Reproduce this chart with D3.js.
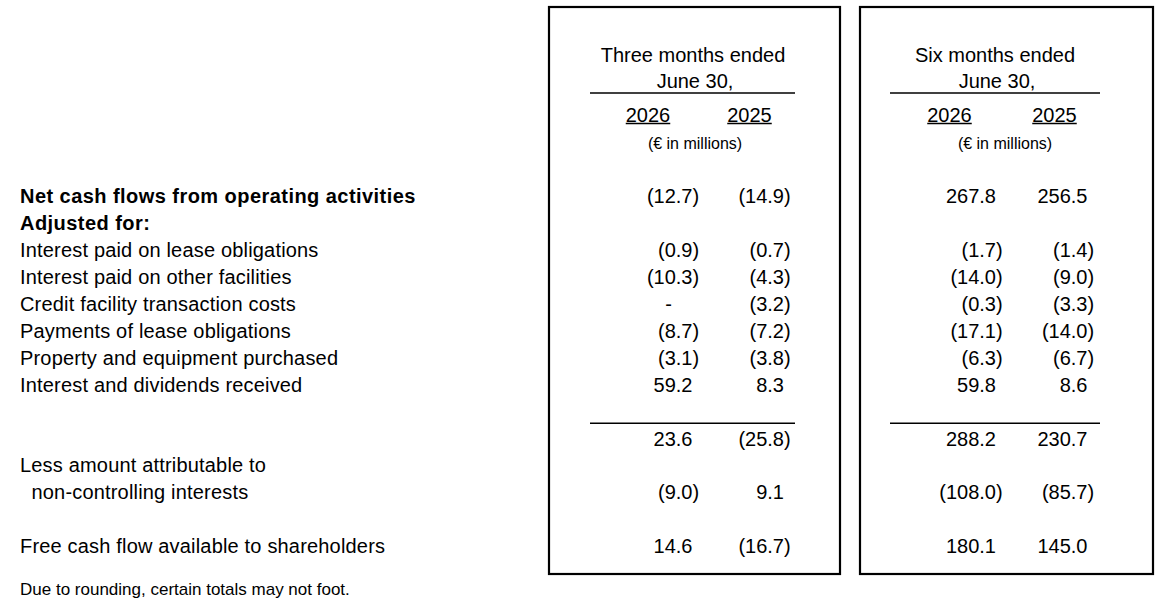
<!DOCTYPE html>
<html lang="en">
<head>
	<meta charset="utf-8">
	<title>Free cash flow</title>
	<script src="https://cdn.jsdelivr.net/npm/d3@7/dist/d3.min.js"></script>
	<style>
		body {
			margin: 0;
			background: #fff;
			font-family: "Liberation Sans", Arial, sans-serif;
		}
		text {
			fill: #000;
			white-space: pre;
		}
	</style>
</head>
<body>
	<script>
		// Table content
		var rowLabels = [
			"Net cash flows from operating activities",
			"Adjusted for:",
			"Interest paid on lease obligations",
			"Interest paid on other facilities",
			"Credit facility transaction costs",
			"Payments of lease obligations",
			"Property and equipment purchased",
			"Interest and dividends received",
			"",
			"Less amount attributable to",
			"  non-controlling interests",
			"Free cash flow available to shareholders"
		];
		var boldRows = [0, 1];
		// vertical slot of each row (gaps for the blank lines)
		var rowSlots = [0, 1, 2, 3, 4, 5, 6, 7, 9, 10, 11, 13];

		var periods = ["Three months ended", "Six months ended"];
		var periodEnd = "June 30,";
		var years = ["2026", "2025"];
		var unitLabel = "(\u20ac in millions)";
		var footnote = "Due to rounding, certain totals may not foot.";

		// null = empty cell, "-" = nil
		var threeMonths2026 = [-12.7, null, -0.9, -10.3, "-", -8.7, -3.1, 59.2, 23.6, null, -9.0, 14.6];
		var threeMonths2025 = [-14.9, null, -0.7, -4.3, -3.2, -7.2, -3.8, 8.3, -25.8, null, 9.1, -16.7];
		var sixMonths2026 = [267.8, null, -1.7, -14.0, -0.3, -17.1, -6.3, 59.8, 288.2, null, -108.0, 180.1];
		var sixMonths2025 = [256.5, null, -1.4, -9.0, -3.3, -14.0, -6.7, 8.6, 230.7, null, -85.7, 145.0];

		var columns = [
			{ period: 0, year: 0, values: threeMonths2026 },
			{ period: 0, year: 1, values: threeMonths2025 },
			{ period: 1, year: 0, values: sixMonths2026 },
			{ period: 1, year: 1, values: sixMonths2025 }
		];

		var width = 1162;
		var height = 616;
		var fontSize = 20;

		var svg = d3.select( "body" )
			.append( "svg" )
			.attr( "width", width )
			.attr( "height", height )
			.style( "display", "block" );

		// row position
		var y = d3.scaleLinear()
			.domain( [0, 13] )
			.range( [196, 546] );

		// boxes around each period
		var boxX = d3.scaleOrdinal().domain( [0, 1] ).range( [549, 860] );
		var boxW = d3.scaleOrdinal().domain( [0, 1] ).range( [291, 293] );
		var boxTop = 7, boxBottom = 574;
		// centre of the period titles and of the unit line
		var titleX = d3.scaleOrdinal().domain( [0, 1] ).range( [693, 995] );
		var unitX = d3.scaleOrdinal().domain( [0, 1] ).range( [695, 1005] );

		// right edge of the digits in each value column
		var colX = d3.scaleOrdinal()
			.domain( [0, 1, 2, 3] )
			.range( [692.5, 784, 996, 1087.5] );
		// centre of year headings
		var yearX = d3.scaleOrdinal()
			.domain( [0, 1, 2, 3] )
			.range( [648, 749.5, 949.5, 1054.5] );
		// extent of the rules in each box
		var ruleX = d3.scaleOrdinal().domain( [0, 1] ).range( [[590, 795], [890, 1100]] );

		var base = function( cy, size ) { return cy + size * 0.36; };

		var boxes = svg.append( "g" );
		boxes.selectAll( "rect" )
			.data( periods )
			.enter()
			.append( "rect" )
			.attr( "x", function( d, i ) { return boxX( i ); } )
			.attr( "y", boxTop )
			.attr( "width", function( d, i ) { return boxW( i ); } )
			.attr( "height", boxBottom - boxTop )
			.attr( "fill", "none" )
			.attr( "stroke", "#000" )
			.attr( "stroke-width", 2.2 );

		// headers
		var head = svg.append( "g" ).attr( "font-size", fontSize );
		head.selectAll( "text.period" )
			.data( periods )
			.enter()
			.append( "text" )
			.attr( "class", "period" )
			.attr( "x", function( d, i ) { return titleX( i ); } )
			.attr( "y", base( 55, fontSize ) )
			.attr( "text-anchor", "middle" )
			.text( function( d ) { return d; } );

		head.selectAll( "text.end" )
			.data( periods )
			.enter()
			.append( "text" )
			.attr( "class", "end" )
			.attr( "x", function( d, i ) { return titleX( i ) + 2; } )
			.attr( "y", base( 81, fontSize ) )
			.attr( "text-anchor", "middle" )
			.text( periodEnd );

		head.selectAll( "text.unit" )
			.data( periods )
			.enter()
			.append( "text" )
			.attr( "class", "unit" )
			.attr( "x", function( d, i ) { return unitX( i ); } )
			.attr( "y", base( 143, 16 ) )
			.attr( "font-size", 16 )
			.attr( "text-anchor", "middle" )
			.text( unitLabel );

		var rules = svg.append( "g" ).attr( "stroke", "#000" ).attr( "stroke-width", 1.6 );
		[93, y( 9 ) - 15].forEach( function( ry ) {
			rules.selectAll( null )
				.data( periods )
				.enter()
				.append( "line" )
				.attr( "x1", function( d, i ) { return ruleX( i )[0]; } )
				.attr( "x2", function( d, i ) { return ruleX( i )[1]; } )
				.attr( "y1", ry )
				.attr( "y2", ry );
		} );

		// years, underlined
		var yearText = head.selectAll( "text.year" )
			.data( columns )
			.enter()
			.append( "text" )
			.attr( "class", "year" )
			.attr( "x", function( d, i ) { return yearX( i ); } )
			.attr( "y", base( 115, fontSize ) )
			.attr( "text-anchor", "middle" )
			.text( function( d ) { return years[d.year]; } );

		yearText.each( function() {
			var b = this.getBBox();
			head.append( "line" )
				.attr( "x1", b.x )
				.attr( "x2", b.x + b.width )
				.attr( "y1", 123.5 )
				.attr( "y2", 123.5 )
				.attr( "stroke", "#000" )
				.attr( "stroke-width", 1.4 );
		} );

		// row labels
		var labels = svg.append( "g" ).attr( "font-size", fontSize );
		labels.selectAll( "text" )
			.data( rowLabels )
			.enter()
			.append( "text" )
			.attr( "x", 20 )
			.attr( "y", function( d, i ) { return base( y( rowSlots[i] ), fontSize ); } )
			.attr( "font-weight", function( d, i ) { return boldRows.indexOf( i ) >= 0 ? "bold" : "normal"; } )
			.attr( "letter-spacing", function( d, i ) { return boldRows.indexOf( i ) >= 0 ? 0.45 : 0.18; } )
			.text( function( d ) { return d; } );

		// values
		var fmt = d3.format( ".1f" );
		var paren = fontSize * 0.333;
		var cells = svg.append( "g" ).attr( "font-size", fontSize );
		columns.forEach( function( col, c ) {
			cells.selectAll( null )
				.data( col.values.map( function( v, i ) { return { v: v, i: i }; } )
					.filter( function( d ) { return d.v !== null; } ) )
				.enter()
				.append( "text" )
				.attr( "y", function( d ) { return base( y( rowSlots[d.i] ), fontSize ); } )
				.attr( "x", function( d ) {
					if ( d.v === "-" ) return colX( c ) - 24;
					return d.v < 0 ? colX( c ) + paren : colX( c );
				} )
				.attr( "text-anchor", function( d ) { return d.v === "-" ? "middle" : "end"; } )
				.text( function( d ) {
					if ( d.v === "-" ) return "-";
					return d.v < 0 ? "(" + fmt( -d.v ) + ")" : fmt( d.v );
				} );
		} );

		svg.append( "text" )
			.attr( "x", 20 )
			.attr( "y", base( 589, 17 ) )
			.attr( "font-size", 17 )
			.text( footnote );
	</script>
</body>
</html>
